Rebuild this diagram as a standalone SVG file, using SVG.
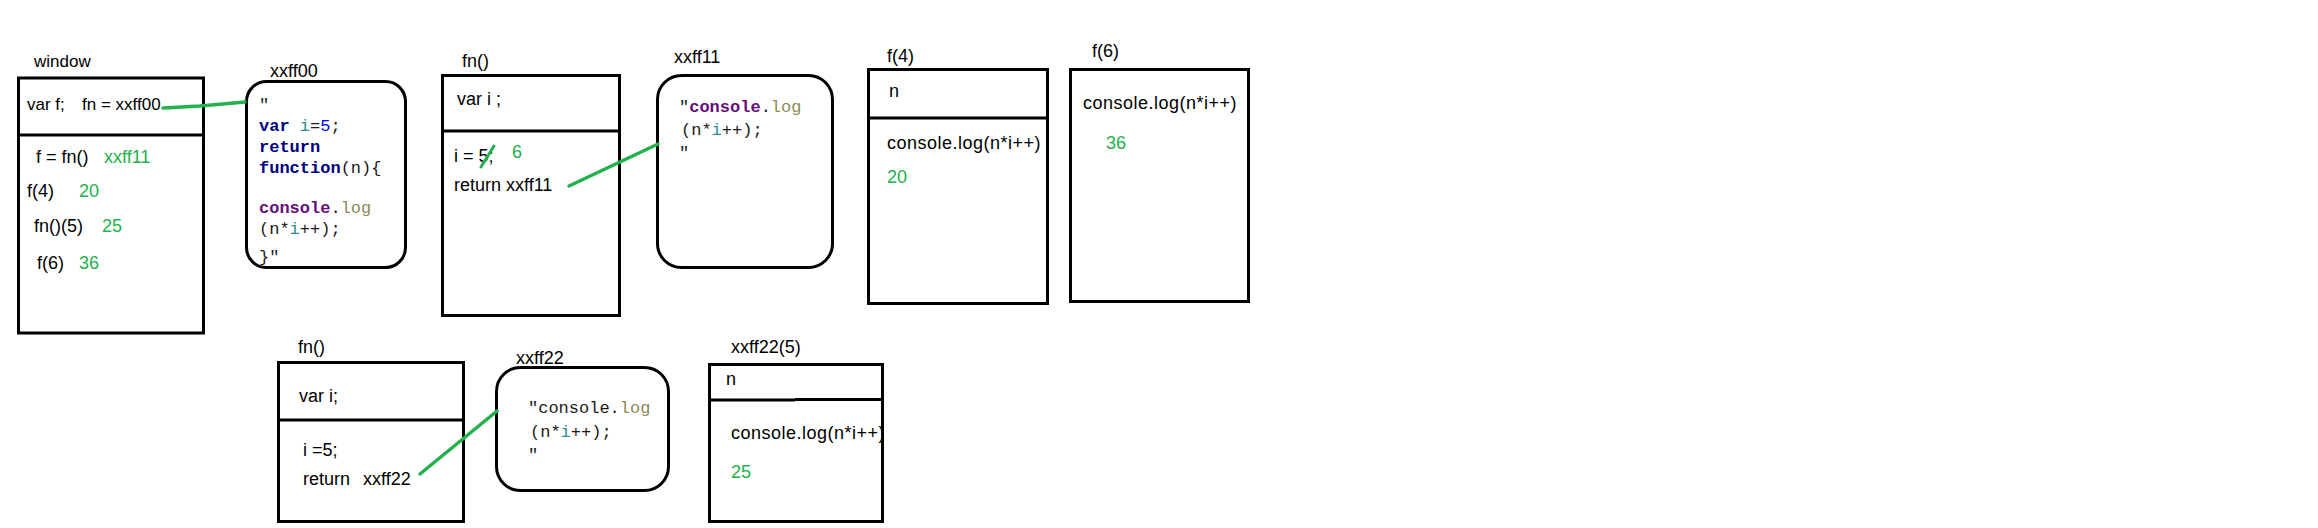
<svg xmlns="http://www.w3.org/2000/svg" width="2318" height="528" viewBox="0 0 2318 528">
<style>
.box{fill:none;stroke:#000;stroke-width:3}
.t{font-family:"Liberation Sans",Arial,sans-serif;font-size:18px;fill:#000}
.g{fill:#22b14c}
.c{font-family:"Liberation Mono","Courier New",monospace;font-size:17px;fill:#1a1a1a}
.kw{fill:#000080;font-weight:bold}
.id{fill:#2f8f8f}
.num{fill:#0000ff}
.cn{fill:#660e7a;font-weight:bold}
.lg{fill:#8a8a55}
.ln{stroke:#22b14c;stroke-width:3.5;fill:none;stroke-linecap:round}
.cl{letter-spacing:0.5px}
</style>
<defs>
<clipPath id="clip5"><rect x="709" y="364" width="173" height="158"/></clipPath>
</defs>
<rect width="2318" height="528" fill="#fff"/>

<g id="window">
<text class="t" x="34" y="67" style="font-size:17px">window</text>
<rect class="box" x="18.5" y="78" width="185" height="255"/>
<line class="box" x1="18.5" y1="135" x2="203.5" y2="135"/>
<text class="t" x="27" y="110" style="font-size:17px">var f;</text>
<text class="t" x="82" y="110" style="font-size:17px">fn = xxff00</text>
<text class="t" x="36" y="163">f = fn()</text>
<text class="t g" x="104" y="163">xxff11</text>
<text class="t" x="27" y="197">f(4)</text>
<text class="t g" x="79" y="197">20</text>
<text class="t" x="34" y="232">fn()(5)</text>
<text class="t g" x="102" y="232">25</text>
<text class="t" x="37" y="269">f(6)</text>
<text class="t g" x="79" y="269">36</text>
</g>

<g id="xxff00">
<text class="t" x="270" y="77">xxff00</text>
<rect class="box" x="246.5" y="81.5" width="159" height="186" rx="20"/>
<text class="c" x="259" y="110">"</text>
<text class="c" x="259" y="131"><tspan class="kw">var</tspan> <tspan class="id">i</tspan>=<tspan class="num">5</tspan>;</text>
<text class="c kw" x="259" y="152">return</text>
<text class="c" x="259" y="173"><tspan class="kw">function</tspan>(n){</text>
<text class="c" x="259" y="213"><tspan class="cn">console</tspan>.<tspan class="lg">log</tspan></text>
<text class="c" x="259" y="234">(n*<tspan class="id">i</tspan>++);</text>
<text class="c" x="259" y="262">}"</text>
</g>

<g id="fn1">
<text class="t" x="462" y="67">fn()</text>
<rect class="box" x="442.5" y="75.5" width="177" height="240"/>
<line class="box" x1="442.5" y1="131" x2="619.5" y2="131"/>
<text class="t" x="457" y="105">var i ;</text>
<text class="t" x="454" y="162">i = 5;</text>
<line class="ln" x1="481" y1="167" x2="494" y2="146" style="stroke-width:3"/>
<text class="t g" x="512" y="158">6</text>
<text class="t" x="454" y="191">return xxff11</text>
</g>

<g id="xxff11">
<text class="t" x="674" y="63">xxff11</text>
<rect class="box" x="657.5" y="75.5" width="175" height="192" rx="24"/>
<text class="c" x="679" y="112">"<tspan class="cn">console</tspan>.<tspan class="lg">log</tspan></text>
<text class="c" x="681" y="135">(n*<tspan class="id">i</tspan>++);</text>
<text class="c" x="679" y="158">"</text>
</g>

<g id="f4">
<text class="t" x="887" y="62">f(4)</text>
<rect class="box" x="868.5" y="69.5" width="179" height="234"/>
<line class="box" x1="868.5" y1="118" x2="1047.5" y2="118"/>
<text class="t" x="889" y="97">n</text>
<text class="t cl" x="887" y="149">console.log(n*i++)</text>
<text class="t g" x="887" y="183">20</text>
</g>

<g id="f6">
<text class="t" x="1092" y="57">f(6)</text>
<rect class="box" x="1070.5" y="69.5" width="178" height="232"/>
<text class="t cl" x="1083" y="109">console.log(n*i++)</text>
<text class="t g" x="1106" y="149">36</text>
</g>

<g id="fn2">
<text class="t" x="298" y="353">fn()</text>
<rect class="box" x="278.5" y="362.5" width="185" height="159"/>
<line class="box" x1="278.5" y1="420" x2="463.5" y2="420"/>
<text class="t" x="299" y="402">var i;</text>
<text class="t" x="303" y="456">i =5;</text>
<text class="t" x="303" y="485">return</text>
<text class="t" x="363" y="485">xxff22</text>
</g>

<g id="xxff22">
<text class="t" x="516" y="364">xxff22</text>
<rect class="box" x="496.5" y="367.5" width="172" height="123" rx="24" style="fill:#fff"/>
<text class="c" x="528" y="413">"console.<tspan class="lg">log</tspan></text>
<text class="c" x="530" y="437">(n*<tspan class="id">i</tspan>++);</text>
<text class="c" x="528" y="460">"</text>
</g>

<g id="xxff22-5">
<text class="t" x="731" y="353">xxff22(5)</text>
<rect class="box" x="709.5" y="364.5" width="173" height="157"/>
<line class="box" x1="708" y1="400" x2="795" y2="400"/>
<line class="box" x1="795" y1="399.5" x2="882.5" y2="399.5"/>
<text class="t" x="726" y="385">n</text>
<g clip-path="url(#clip5)"><text class="t cl" x="731" y="439">console.log(n*i++)</text></g>
<text class="t g" x="731" y="478">25</text>
</g>

<g id="connectors">
<polyline class="ln" points="163,108 200,106 245,102"/>
<line class="ln" x1="569" y1="186" x2="658" y2="144"/>
<line class="ln" x1="420" y1="474" x2="497" y2="411"/>
</g>
</svg>
